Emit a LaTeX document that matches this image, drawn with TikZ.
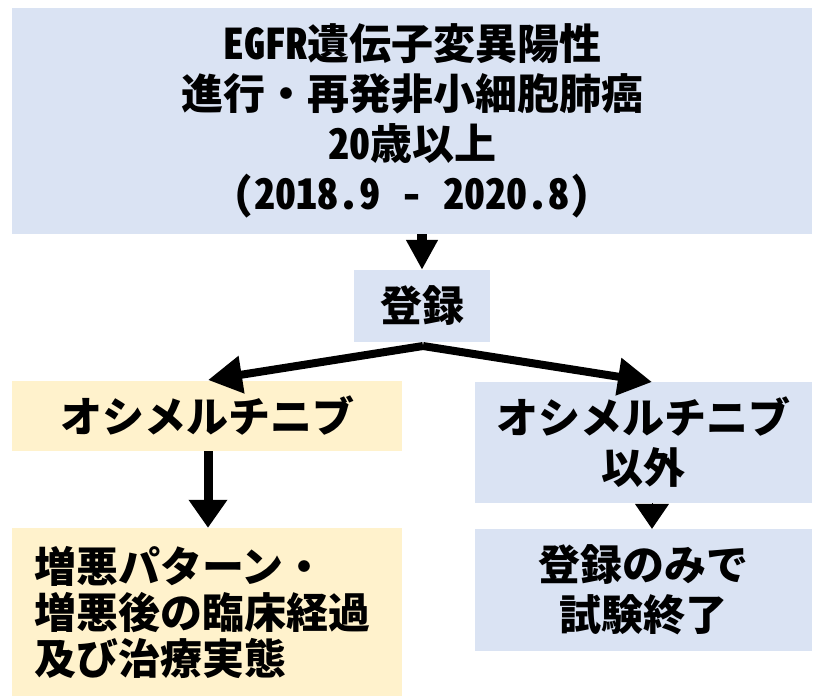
\documentclass[tikz,border=0pt]{standalone}
\usepackage{fontspec}
\setmainfont{Noto Sans CJK JP}
\newfontfamily\hw[RawFeature=+hwid]{Noto Sans CJK JP}
\usetikzlibrary{arrows.meta}
\definecolor{boxblue}{HTML}{DAE3F3}
\definecolor{boxorange}{HTML}{FFF2CC}
\begin{document}
\begin{tikzpicture}[x=1pt,y=-1pt,
  box/.style={rectangle, inner sep=0pt, align=center, font=\bfseries\fontsize{42}{50}\selectfont},
  bluebox/.style={box, fill=boxblue},
  orangebox/.style={box, fill=boxorange},
  flow/.style={draw=black, line width=#1}]
\useasboundingbox (0,0) rectangle (821,698);
\node[bluebox, minimum width=800pt, minimum height=226pt] (top) at (412,121)
  {{\hw EGFR}遺伝子変異陽性\\進行・再発非小細胞肺癌\\{\hw 20}歳以上\\{\hw (2018.9 - 2020.8)}};
\node[bluebox, minimum width=136pt, minimum height=72pt] (reg) at (422,306) {登録};
\node[orangebox, minimum width=390pt, minimum height=70pt] (osi) at (207,416) {オシメルチニブ};
\node[bluebox, minimum width=337pt, minimum height=121pt] (other) at (643.5,442.5) {オシメルチニブ\\以外};
\node[orangebox, minimum height=168pt, text width=346pt, inner xsep=22pt, align=left,
  font=\bfseries\fontsize{42}{46}\selectfont] (course) at (207,612)
  {増悪パターン・\\増悪後の臨床経過\\及び治療実態};
\node[bluebox, minimum width=337pt, minimum height=122pt] (end) at (643.5,590) {登録のみで\\試験終了};
% connectors
\coordinate (topout) at (422,234);
\coordinate (split) at (423,346);
\coordinate (lt) at (208,380);
\coordinate (rt) at (652,382);
\draw[flow=10pt, -{Triangle[width=30pt,length=30pt]}] (topout) -- (topout |- reg.north);
\draw[flow=8pt, -{Triangle[width=36pt,length=34pt]}] (split) -- (lt);
\draw[flow=8pt, -{Triangle[width=36pt,length=34pt]}] (split) -- (rt);
\draw[flow=9pt, -{Triangle[width=37pt,length=28pt]}] (osi.south -| 208,0) -- (course.north -| 208,0);
\draw[flow=1pt, -{Triangle[width=34pt,length=25pt]}] (other.south -| 652,0) -- (end.north -| 652,0);
\end{tikzpicture}
\end{document}
